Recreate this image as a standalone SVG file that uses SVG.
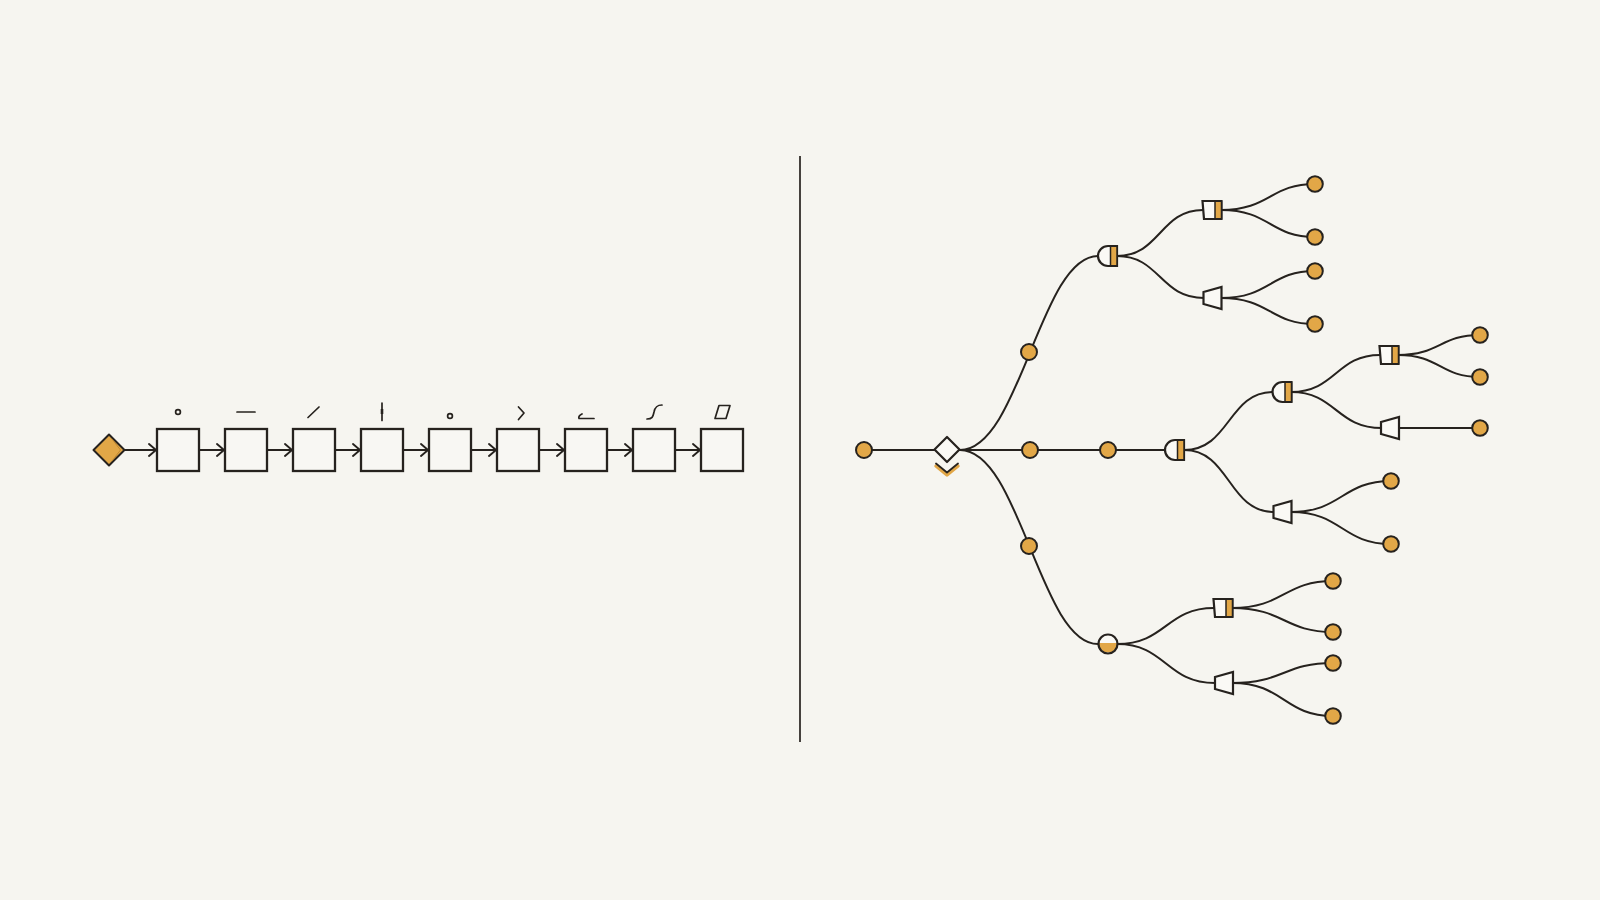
<svg xmlns="http://www.w3.org/2000/svg" xmlns:xlink="http://www.w3.org/1999/xlink" width="1600" height="900" viewBox="0 0 1600 900">
<style>
.ln{fill:none;stroke:#26221e;stroke-width:2;stroke-linecap:round;stroke-linejoin:round}
.box{fill:#f8f7f3;stroke:#26221e;stroke-width:2.3}
.dot{fill:#e2a747;stroke:#26221e;stroke-width:2}
.shape{fill:#faf9f5;stroke:#26221e;stroke-width:2.2}
.band{fill:#e2a747}
.glyph{fill:none;stroke:#26221e;stroke-width:1.7;stroke-linecap:round;stroke-linejoin:round}
</style>
<defs>
<marker id="arr" markerUnits="userSpaceOnUse" markerWidth="12" markerHeight="14" refX="9" refY="7" orient="auto" viewBox="0 0 12 14">
<path d="M2,1 L9,7 L2,13" fill="none" stroke="#26221e" stroke-width="1.9" stroke-linecap="round" stroke-linejoin="round"/>
</marker>
<g id="dgate">
<path class="shape" d="M9.5,-10 L0.5,-10 A10,10 0 0 0 0.5,10 L9.5,10 Z"/>
<rect class="band" x="3" y="-9" width="6.5" height="18"/>
<path d="M9.5,-10 L9.5,10 M3,-10 L3,10" fill="none" stroke="#26221e" stroke-width="1.5"/>
</g>
<g id="sgate">
<path class="shape" d="M-9.5,-9 L9.5,-9 L9.5,9 L-8,9 Z"/>
<rect class="band" x="3" y="-8" width="6.5" height="16"/>
<path d="M9.5,-9 L9.5,9 M3,-9 L3,9" fill="none" stroke="#26221e" stroke-width="1.5"/>
</g>
<path id="tgate" class="shape" d="M-9,-6 L9,-11 L9,11 L-9,6 Z"/>
</defs>
<rect width="1600" height="900" fill="#f6f5f0"/>

<!-- divider -->
<line x1="800" y1="156" x2="800" y2="742" stroke="#26221e" stroke-width="1.7"/>

<!-- left chain connectors -->
<g id="chain-connectors" class="ln">
<line x1="124" y1="450" x2="156" y2="450" marker-end="url(#arr)"/>
<line x1="199" y1="450" x2="224" y2="450" marker-end="url(#arr)"/>
<line x1="267" y1="450" x2="292" y2="450" marker-end="url(#arr)"/>
<line x1="335" y1="450" x2="360" y2="450" marker-end="url(#arr)"/>
<line x1="403" y1="450" x2="428" y2="450" marker-end="url(#arr)"/>
<line x1="471" y1="450" x2="496" y2="450" marker-end="url(#arr)"/>
<line x1="539" y1="450" x2="564" y2="450" marker-end="url(#arr)"/>
<line x1="607" y1="450" x2="632" y2="450" marker-end="url(#arr)"/>
<line x1="675" y1="450" x2="700" y2="450" marker-end="url(#arr)"/>
</g>

<g id="start-diamond">
<path d="M109,434.5 L124.5,450 L109,465.5 L93.5,450 Z" fill="#e2a747" stroke="#26221e" stroke-width="2" stroke-linejoin="round"/>
<path d="M112,439 L120.5,450 L112,461" fill="none" stroke="#b07a28" stroke-width="1" opacity="0.7"/>
</g>

<g id="step1"><rect class="box" x="157" y="429" width="42" height="42"/><circle cx="178" cy="412" r="2.4" fill="none" stroke="#26221e" stroke-width="1.7"/></g>
<g id="step2"><rect class="box" x="225" y="429" width="42" height="42"/><line class="glyph" x1="237" y1="412" x2="255" y2="412"/></g>
<g id="step3"><rect class="box" x="293" y="429" width="42" height="42"/><line class="glyph" x1="308" y1="417.5" x2="319" y2="407"/></g>
<g id="step4"><rect class="box" x="361" y="429" width="42" height="42"/><line class="glyph" x1="382" y1="403" x2="382" y2="420.5"/><line x1="382" y1="409" x2="382" y2="414" stroke="#26221e" stroke-width="2.6"/></g>
<g id="step5"><rect class="box" x="429" y="429" width="42" height="42"/><circle cx="450" cy="416" r="2.4" fill="none" stroke="#26221e" stroke-width="1.7"/></g>
<g id="step6"><rect class="box" x="497" y="429" width="42" height="42"/><path class="glyph" d="M518.5,407 L524,413 L518.5,419.5"/></g>
<g id="step7"><rect class="box" x="565" y="429" width="42" height="42"/><path class="glyph" d="M582,414 Q578,416 579,418.5 L594,418.5"/></g>
<g id="step8"><rect class="box" x="633" y="429" width="42" height="42"/><path class="glyph" d="M647,419 C653,419 653,416 654,412 C655,407 657,405 662,405"/></g>
<g id="step9"><rect class="box" x="701" y="429" width="42" height="42"/><path class="glyph" d="M715,418.5 L719,405.5 L730,405.5 L726,418.5 Z"/></g>

<!-- tree connectors -->
<g id="tree-connectors" class="ln">
<line x1="864" y1="450" x2="934" y2="450"/>
<line x1="960" y1="450" x2="1166" y2="450"/>
<path d="M960,450 C1020,450 1040,256 1098,256"/>
<path d="M960,450 C1020,450 1040,644 1098,644"/>
<path d="M1117,256 C1160,256 1160,210 1203,210"/>
<path d="M1117,256 C1160,256 1160,298 1204,298"/>
<path d="M1221,210 C1270,210 1270,184 1315,184"/>
<path d="M1221,210 C1270,210 1270,237 1315,237"/>
<path d="M1221,298 C1270,298 1270,271 1315,271"/>
<path d="M1221,298 C1270,298 1270,324 1315,324"/>
<path d="M1184,450 C1230,450 1228,392 1273,392"/>
<path d="M1184,450 C1230,450 1228,512 1274,512"/>
<path d="M1291,392 C1336,392 1336,355 1380,355"/>
<path d="M1291,392 C1336,392 1336,428 1382,428"/>
<path d="M1398,355 C1440,355 1440,335 1480,335"/>
<path d="M1398,355 C1440,355 1440,377 1480,377"/>
<line x1="1398" y1="428" x2="1480" y2="428"/>
<path d="M1291,512 C1342,512 1342,481 1391,481"/>
<path d="M1291,512 C1342,512 1342,544 1391,544"/>
<path d="M1117,644 C1166,644 1166,608 1214,608"/>
<path d="M1117,644 C1166,644 1166,683 1215,683"/>
<path d="M1232,608 C1284,608 1284,581 1333,581"/>
<path d="M1232,608 C1284,608 1284,632 1333,632"/>
<path d="M1232,683 C1284,683 1284,663 1333,663"/>
<path d="M1232,683 C1284,683 1284,716 1333,716"/>
</g>

<g id="root"><circle class="dot" cx="864" cy="450" r="8"/></g>
<g id="decision">
<path d="M936,466 L947,475 L958,466" fill="none" stroke="#e2a747" stroke-width="3.4" stroke-linecap="round" stroke-linejoin="round"/>
<path d="M936,463.5 L947,472.5 L958,463.5" fill="none" stroke="#26221e" stroke-width="1.8" stroke-linecap="round" stroke-linejoin="round"/>
<path d="M947,437 L959.5,449.5 L947,462 L934.5,449.5 Z" fill="#faf9f5" stroke="#26221e" stroke-width="2.2" stroke-linejoin="round"/>
</g>
<g id="dot-up"><circle class="dot" cx="1029" cy="352" r="8"/></g>
<g id="dot-mid1"><circle class="dot" cx="1030" cy="450" r="8"/></g>
<g id="dot-mid2"><circle class="dot" cx="1108" cy="450" r="8"/></g>
<g id="dot-low"><circle class="dot" cx="1029" cy="546" r="8"/></g>

<g id="gate-up"><use xlink:href="#dgate" href="#dgate" transform="translate(1107.5,256)"/></g>
<g id="gate-mid"><use xlink:href="#dgate" href="#dgate" transform="translate(1174.5,450)"/></g>
<g id="split-low">
<circle cx="1108" cy="644" r="9.5" fill="#faf9f5"/>
<path d="M1098.5,643 A9.5,9.5 0 0 0 1117.5,643 Z" fill="#e2a747"/>
<circle cx="1108" cy="644" r="9.5" fill="none" stroke="#26221e" stroke-width="2.2"/>
</g>

<g id="sq-up"><use xlink:href="#sgate" href="#sgate" transform="translate(1212,210)"/></g>
<g id="tri-up"><use xlink:href="#tgate" href="#tgate" transform="translate(1212.5,298)"/></g>
<g id="gate-mid2"><use xlink:href="#dgate" href="#dgate" transform="translate(1282,392)"/></g>
<g id="sq-mid"><use xlink:href="#sgate" href="#sgate" transform="translate(1389,355)"/></g>
<g id="tri-mid"><use xlink:href="#tgate" href="#tgate" transform="translate(1390,428)"/></g>
<g id="tri-mid2"><use xlink:href="#tgate" href="#tgate" transform="translate(1282.5,512)"/></g>
<g id="sq-low"><use xlink:href="#sgate" href="#sgate" transform="translate(1223,608)"/></g>
<g id="tri-low"><use xlink:href="#tgate" href="#tgate" transform="translate(1224,683)"/></g>

<g id="leaves">
<circle class="dot" cx="1315" cy="184" r="7.8"/>
<circle class="dot" cx="1315" cy="237" r="7.8"/>
<circle class="dot" cx="1315" cy="271" r="7.8"/>
<circle class="dot" cx="1315" cy="324" r="7.8"/>
<circle class="dot" cx="1480" cy="335" r="7.8"/>
<circle class="dot" cx="1480" cy="377" r="7.8"/>
<circle class="dot" cx="1480" cy="428" r="7.8"/>
<circle class="dot" cx="1391" cy="481" r="7.8"/>
<circle class="dot" cx="1391" cy="544" r="7.8"/>
<circle class="dot" cx="1333" cy="581" r="7.8"/>
<circle class="dot" cx="1333" cy="632" r="7.8"/>
<circle class="dot" cx="1333" cy="663" r="7.8"/>
<circle class="dot" cx="1333" cy="716" r="7.8"/>
</g>
</svg>
